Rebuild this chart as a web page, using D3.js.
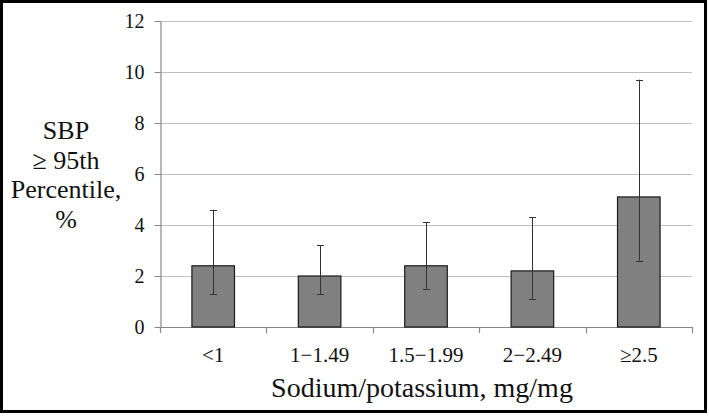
<!DOCTYPE html>
<html><head><meta charset="utf-8">
<script src="https://cdn.jsdelivr.net/npm/d3@7"></script>
<style>
html,body{margin:0;padding:0;background:#fff;}
svg text{font-family:"Liberation Serif","Times New Roman",Times,serif !important;fill:#111;}
</style></head>
<body><svg id="c" width="709" height="416"></svg>
<script>
const categories = ["<1", "1\u22121.49", "1.5\u22121.99", "2\u22122.49", "\u22652.5"];
const values = [2.4, 2.0, 2.4, 2.2, 5.1];
const lower = [1.3, 1.3, 1.5, 1.1, 2.6];
const upper = [4.6, 3.2, 4.1, 4.3, 9.7];
const yTicks = [0, 2, 4, 6, 8, 10, 12];
const yTitleLines = ["SBP", "\u2265 95th", "Percentile,", "%"];
const xTitle = "Sodium/potassium, mg/mg";

(function(){
const FONT = '"Liberation Serif", "Times New Roman", serif';
const svg = d3.select("#c");
const pL = 160, pR = 692, pT = 21, pB = 327;

svg.append("rect").attr("x",1.5).attr("y",1.5).attr("width",704).attr("height",410)
  .attr("fill","#fff").attr("stroke","#000").attr("stroke-width",3);

const x = d3.scaleBand().domain(categories).range([pL, pR]).paddingInner(0).paddingOuter(0);
const y = d3.scaleLinear().domain([0, 12]).range([pB, pT]);

// gridlines
svg.append("g").selectAll("line").data(yTicks.filter(d=>d>0)).join("line")
  .attr("x1", pL).attr("x2", pR)
  .attr("y1", d=>Math.round(y(d))+0.5).attr("y2", d=>Math.round(y(d))+0.5)
  .attr("stroke","#bfbfbf").attr("stroke-width",1.2);

// y axis
const yAxis = svg.append("g").attr("transform",`translate(${pL+0.5},0)`)
  .call(d3.axisLeft(y).tickValues(yTicks).tickSize(6).tickPadding(10).tickSizeOuter(0));
yAxis.attr("font-family", FONT);
yAxis.select(".domain").attr("stroke","#888").attr("stroke-width",1.2);
yAxis.selectAll(".tick line").attr("stroke","#888");
yAxis.selectAll(".tick text").attr("font-size",20).style("font-family",FONT).attr("fill","#111");

// x axis
const bounds = d3.range(categories.length+1).map(i => pL + i*x.step());
const xg = svg.append("g");
xg.append("line").attr("x1",pL).attr("x2",pR).attr("y1",pB+0.5).attr("y2",pB+0.5)
  .attr("stroke","#888").attr("stroke-width",1.2);
xg.selectAll("line.t").data(bounds).join("line").attr("class","t")
  .attr("x1",d=>Math.round(d)+0.5).attr("x2",d=>Math.round(d)+0.5)
  .attr("y1",pB).attr("y2",pB+6).attr("stroke","#888").attr("stroke-width",1.2);
xg.selectAll("text").data(categories).join("text")
  .attr("x",d=>x(d)+x.bandwidth()/2).attr("y",362)
  .attr("text-anchor","middle").attr("font-size",21).style("font-family",FONT).text(d=>d);

// bars
const bw = x.bandwidth()*0.4;
svg.append("g").selectAll("rect").data(categories).join("rect")
  .attr("x",(d)=>x(d)+x.bandwidth()/2-bw/2)
  .attr("y",(d,i)=>y(values[i]))
  .attr("width",bw)
  .attr("height",(d,i)=>y(0)-y(values[i]))
  .attr("fill","#808080").attr("stroke","#1a1a1a").attr("stroke-width",1.2);

// error bars
const eg = svg.append("g").attr("stroke","#333").attr("stroke-width",1);
categories.forEach((c,i)=>{
  const cx = Math.round(x(c)+x.bandwidth()/2)+0.5;
  eg.append("line").attr("x1",cx).attr("x2",cx).attr("y1",y(lower[i])).attr("y2",y(upper[i]));
  [lower[i], upper[i]].forEach(v=>{
    eg.append("line").attr("x1",cx-3.5).attr("x2",cx+3.5).attr("y1",Math.round(y(v))+0.5).attr("y2",Math.round(y(v))+0.5);
  });
});

// y title
svg.append("g").selectAll("text").data(yTitleLines).join("text")
  .attr("x",66).attr("y",(d,i)=>139+i*29.5).attr("text-anchor","middle")
  .attr("font-size",26).style("font-family",FONT).text(d=>d);

// x title
svg.append("text").attr("x",422).attr("y",397).attr("text-anchor","middle")
  .attr("font-size",28).style("font-family",FONT).text(xTitle);
})();
</script></body></html>
